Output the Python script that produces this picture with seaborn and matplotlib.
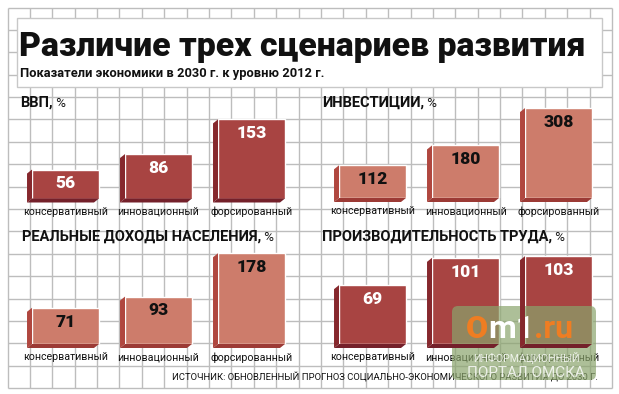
import numpy as np
import matplotlib.pyplot as plt
import matplotlib.patches as mpatches
import seaborn as sns

# ---- data ----
scenarios = ['консервативный', 'инновационный', 'форсированный']
gdp = [56, 86, 153]
investments = [112, 180, 308]
incomes = [71, 93, 178]
productivity = [69, 101, 103]

panel_titles = ['ВВП', 'ИНВЕСТИЦИИ', 'РЕАЛЬНЫЕ ДОХОДЫ НАСЕЛЕНИЯ', 'ПРОИЗВОДИТЕЛЬНОСТЬ ТРУДА']
title = 'Различие трех сценариев развития'
subtitle = 'Показатели экономики в 2030 г. к уровню 2012 г.'
source = 'ИСТОЧНИК: ОБНОВЛЕННЫЙ ПРОГНОЗ СОЦИАЛЬНО-ЭКОНОМИЧЕСКОГО РАЗВИТИЯ ДО 2030 Г.'

sns.set_style('white')
plt.rcParams['font.family'] = ['Roboto', 'DejaVu Sans']

W, H = 619, 394
fig = plt.figure(figsize=(W / 100, H / 100), dpi=100)
fig.patch.set_facecolor('white')


def px_rect(x0, y0, w, h):
    # pixel box with top-left origin -> figure fraction
    return [x0 / W, 1 - (y0 + h) / H, w / W, h / H]


# background: grid paper + title box
bg = fig.add_axes([0, 0, 1, 1])
bg.set_xlim(0, W)
bg.set_ylim(H, 0)
bg.axis('off')

step = 22.39
gx = 7.5 + step * np.arange(28)
gy = 7.5 + step * np.arange(18)
bg.vlines(gx, gy[0], gy[-1], color='#bdbdbd', lw=1.0)
bg.hlines(gy, gx[0], gx[-1], color='#bdbdbd', lw=1.0)
bg.add_patch(mpatches.Rectangle((17, 18), 585, 69, facecolor='white',
                                edgecolor='#c8c8c8', lw=1.0, zorder=3))
bg.text(19, 56, title, fontsize=24.3, fontweight='black', color='#111111',
        va='baseline', ha='left', zorder=4)
bg.text(20, 77, subtitle, fontsize=9.3, fontweight='bold', color='#111111',
        va='baseline', ha='left', zorder=4)
bg.text(598, 377, source, fontsize=6.8, color='#111111', ha='right', va='center',
        family=['Liberation Sans Narrow', 'Roboto', 'DejaVu Sans'])

# panel layout: left px, baseline px, px per unit, title pos
dark = dict(front='#a84442', side='#86282d', bottom='#74202a', text='white')
light = dict(front='#cd7c6b', side='#b0473f', bottom='#9c3a35', text='#111111')
panels = [
    (gdp, 19, 198.5, 0.517, (20, 103), dark),
    (investments, 326, 198.0, 0.292, (322, 103), light),
    (incomes, 19, 344.0, 0.510, (22, 237), light),
    (productivity, 326, 344.0, 0.853, (322, 237), dark),
]

for (vals, left, base, scale, tpos, pal), ptitle in zip(panels, panel_titles):
    ax = fig.add_axes(px_rect(left, base - 100, 279, 100))
    sns.barplot(x=scenarios, y=vals, ax=ax, color=pal['front'], saturation=1,
                width=0.72, zorder=3)
    ax.set_xlim(-0.5, 2.5)
    ax.set_ylim(0, 100 / scale)
    ax.patch.set_visible(False)
    sns.despine(ax=ax, left=True, bottom=True)
    ax.set_yticks([])
    ax.set_xlabel('')
    ax.tick_params(axis='x', length=0, pad=6, labelsize=7.7, labelcolor='#111111')

    # 3D extrusion to the lower left
    dx, dy = 5, 4
    for p in ax.patches:
        bb = p.get_window_extent()
        x0, y0, x1, y1 = bb.x0, bb.y0, bb.x1, bb.y1
        side = [(x0, y1), (x0 - dx, y1 - dy), (x0 - dx, y0 - dy), (x0, y0)]
        bottom = [(x0, y0), (x0 - dx, y0 - dy), (x1 - dx, y0 - dy), (x1, y0)]
        for poly, col in ((side, pal['side']), (bottom, pal['bottom'])):
            pts = [(a / W, b / H) for a, b in poly]
            fig.add_artist(mpatches.Polygon(pts, closed=True, facecolor=col,
                                            edgecolor='none',
                                            transform=fig.transFigure))

    for i, v in enumerate(vals):
        ax.annotate(str(v), xy=(i, v), xytext=(0, -10), textcoords='offset points',
                    ha='center', va='center', fontsize=12.5, fontweight='black',
                    color=pal['text'], zorder=5)

    t = bg.text(tpos[0], tpos[1], ptitle + ',', fontsize=10.5, fontweight='bold',
                color='#111111', va='center', ha='left')
    bg.annotate(' %', xy=(1, 0.5), xycoords=t, fontsize=9.5, color='#111111',
                va='center', ha='left')

# watermark
wm = fig.add_axes([0, 0, 1, 1])
wm.set_xlim(0, W)
wm.set_ylim(H, 0)
wm.axis('off')
wm.add_patch(mpatches.FancyBboxPatch((452, 306), 144, 74,
                                     boxstyle='round,pad=0,rounding_size=6',
                                     facecolor='#8aa46c', edgecolor='none', alpha=0.7))
o = wm.text(466, 329, 'O', fontsize=23, fontweight='black', color='#ef7d22', va='center')
m = wm.annotate('m1', xy=(1, 0.5), xycoords=o, fontsize=23, fontweight='bold',
                color='white', va='center', ha='left')
wm.annotate('.ru', xy=(1, 0.5), xycoords=m, fontsize=23, fontweight='bold',
            color='#ef7d22', va='center', ha='left')
wm.text(526, 358, 'ИНФОРМАЦИОННЫЙ', fontsize=7.6, color='white', alpha=0.8,
        ha='center', va='center')
wm.text(526, 373, 'ПОРТАЛ ОМСКА', fontsize=11, color='white', alpha=0.8,
        ha='center', va='center')

fig.savefig('out.png', dpi=100, facecolor='white')
